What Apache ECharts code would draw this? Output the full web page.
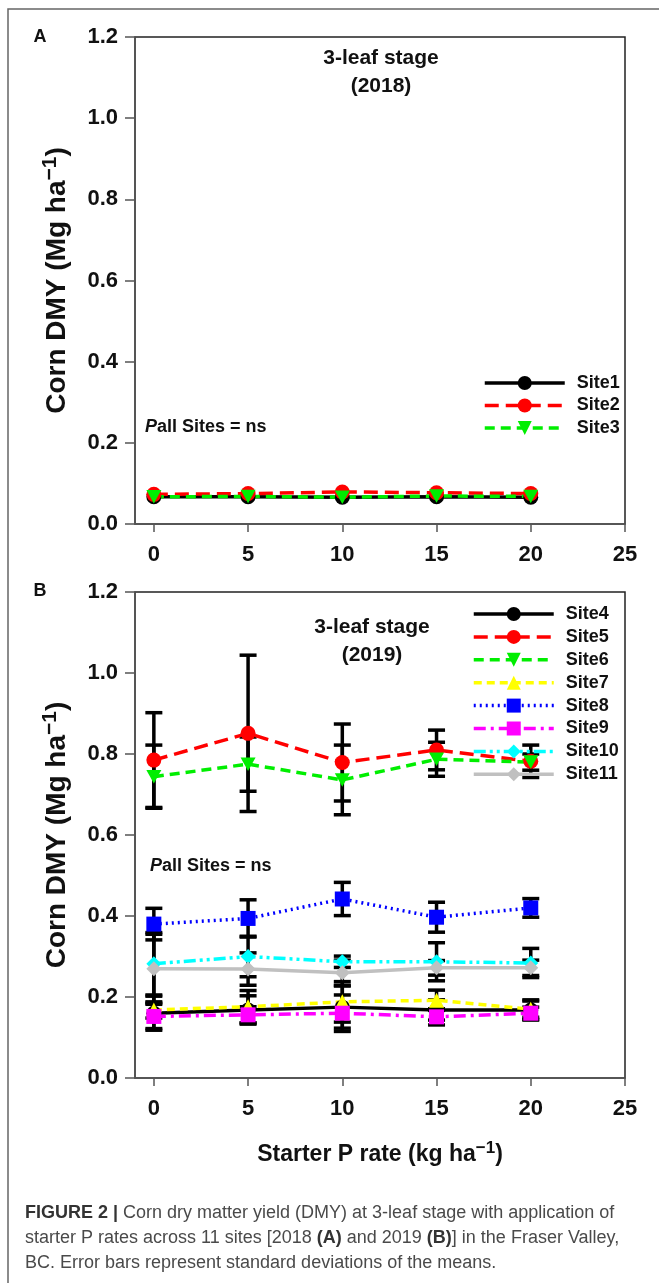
<!DOCTYPE html>
<html>
<head>
<meta charset="utf-8">
<title>Corn DMY at 3-leaf stage</title>
<script src="https://cdn.jsdelivr.net/npm/echarts@6/dist/echarts.min.js"></script>
<style>
  html, body { margin: 0; padding: 0; background: #fff; }
  #chart { width: 659px; height: 1283px; }
</style>
</head>
<body>
<div id="chart"></div>
<script>
'use strict';

// starter P rates (kg ha-1) and axis ticks
const rates = [0, 5, 10, 15, 20];
const xTicks = [0, 5, 10, 15, 20, 25];
const yTicks = [0, 0.2, 0.4, 0.6, 0.8, 1.0, 1.2];

// (A) 2018 - means
const site1 = [0.067, 0.067, 0.066, 0.067, 0.066];
const site2 = [0.073, 0.075, 0.079, 0.077, 0.075];
const site3 = [0.067, 0.068, 0.066, 0.069, 0.068];

// (B) 2019 - means and standard deviations
const site4 = [0.160, 0.168, 0.175, 0.168, 0.168];
const sd4 = [0.042, 0.035, 0.052, 0.025, 0.025];
const site5 = [0.785, 0.851, 0.779, 0.810, 0.782];
const sd5 = [0.117, 0.193, 0.095, 0.049, 0.040];
const site6 = [0.744, 0.775, 0.736, 0.787, 0.780];
const sd6 = [0.078, 0.067, 0.086, 0.042, 0.020];
const site7 = [0.168, 0.176, 0.188, 0.192, 0.170];
const sd7 = [0.020, 0.040, 0.050, 0.025, 0.020];
const site8 = [0.380, 0.394, 0.442, 0.397, 0.420];
const sd8 = [0.039, 0.046, 0.041, 0.037, 0.023];
const site9 = [0.152, 0.156, 0.160, 0.151, 0.160];
const sd9 = [0.030, 0.020, 0.045, 0.020, 0.015];
const site10 = [0.282, 0.300, 0.287, 0.287, 0.284];
const sd10 = [0.077, 0.050, 0.014, 0.047, 0.036];
const site11 = [0.270, 0.269, 0.260, 0.272, 0.272];
const sd11 = [0.085, 0.040, 0.031, 0.018, 0.019];

const FONT = '"Liberation Sans", Arial, Helvetica, sans-serif';
const TRI_DOWN = 'path://M0,0 L10,0 L5,9 Z';

// look of each site (SigmaPlot-ish defaults)
const looks = {
    Site1: { color: '#000000', dash: 'solid', symbol: 'circle' },
    Site2: { color: '#ff0000', dash: [14, 7], symbol: 'circle' },
    Site3: { color: '#00ee00', dash: [10, 6], symbol: TRI_DOWN },
    Site4: { color: '#000000', dash: 'solid', symbol: 'circle' },
    Site5: { color: '#ff0000', dash: [14, 7], symbol: 'circle' },
    Site6: { color: '#00ee00', dash: [10, 6], symbol: TRI_DOWN },
    Site7: { color: '#ffff00', dash: [8, 5], symbol: 'triangle' },
    Site8: { color: '#0000ff', dash: [2, 4], symbol: 'rect' },
    Site9: { color: '#ff00ff', dash: [12, 5, 3, 5], symbol: 'rect' },
    Site10: { color: '#00ffff', dash: [12, 4, 3, 4, 3, 4], symbol: 'diamond' },
    Site11: { color: '#c0c0c0', dash: 'solid', symbol: 'diamond' }
};

const lineSeries = (name, values, idx) => {
    const lk = looks[name];
    return {
        name,
        type: 'line',
        xAxisIndex: idx,
        yAxisIndex: idx,
        data: rates.map((r, i) => [r, values[i]]),
        symbol: lk.symbol,
        symbolSize: 15,
        symbolKeepAspect: true,
        itemStyle: { color: lk.color },
        lineStyle: { color: lk.color, width: 3.5, type: lk.dash },
        emphasis: { disabled: true },
        animation: false,
        z: 3
    };
};

const errorSeries = (values, sds, idx) => ({
    type: 'custom',
    xAxisIndex: idx,
    yAxisIndex: idx,
    data: rates.map((r, i) => [r, values[i], sds[i]]),
    encode: { x: 0, y: 1 },
    silent: true,
    animation: false,
    z: 2,
    renderItem: (params, api) => {
        const x = api.value(0);
        const m = api.value(1);
        const s = api.value(2);
        const hi = api.coord([x, m + s]);
        const lo = api.coord([x, m - s]);
        const hw = 8.5;
        const style = { stroke: '#000', lineWidth: 3.5 };
        return {
            type: 'group',
            children: [
                { type: 'line', shape: { x1: hi[0], y1: hi[1], x2: lo[0], y2: lo[1] }, style },
                { type: 'line', shape: { x1: hi[0] - hw, y1: hi[1], x2: hi[0] + hw, y2: hi[1] }, style },
                { type: 'line', shape: { x1: lo[0] - hw, y1: lo[1], x2: lo[0] + hw, y2: lo[1] }, style }
            ]
        };
    }
});

const axisGrey = '#555';
const boldText = (size) => ({ fontFamily: FONT, fontWeight: 'bold', fontSize: size, color: '#111' });

const makeX = (idx, withName) => ({
    type: 'value',
    gridIndex: idx,
    min: -1,
    max: 25,
    axisLine: { show: true, onZero: false, lineStyle: { color: axisGrey, width: 1.5 } },
    axisTick: { show: true, customValues: xTicks, length: 8, lineStyle: { color: axisGrey, width: 1.5 } },
    axisLabel: Object.assign({ customValues: xTicks, margin: 20 }, boldText(22)),
    splitLine: { show: false },
    name: withName ? 'Starter P rate (kg ha{sup|\u22121})' : '',
    nameLocation: 'middle',
    nameGap: 62,
    nameTextStyle: Object.assign(boldText(23), {
        rich: { sup: Object.assign(boldText(17), { padding: [0, 0, 12, 0] }) }
    })
});

const makeY = (idx) => ({
    type: 'value',
    gridIndex: idx,
    min: 0,
    max: 1.2,
    axisLine: { show: true, onZero: false, lineStyle: { color: axisGrey, width: 1.5 } },
    axisTick: { show: true, customValues: yTicks, length: 10, lineStyle: { color: axisGrey, width: 1.5 } },
    axisLabel: Object.assign({ customValues: yTicks, margin: 17, formatter: v => v.toFixed(1) }, boldText(22)),
    splitLine: { show: false },
    name: 'Corn DMY (Mg ha{sup|\u22121})',
    nameLocation: 'middle',
    nameGap: 60,
    nameTextStyle: Object.assign(boldText(28), {
        rich: { sup: Object.assign(boldText(21), { padding: [0, 0, 14, 0] }) }
    })
});

const legendOf = (names, left, top, gap) => ({
    data: names,
    orient: 'vertical',
    left,
    top,
    itemWidth: 80,
    itemHeight: 17.5,
    itemGap: gap,
    selectedMode: false,
    lineStyle: { width: 3.5 },
    textStyle: Object.assign(boldText(18), { padding: [0, 0, 0, 7] })
});

const annot = (x, y, text, size, align) => ({
    type: 'text',
    x,
    y,
    silent: true,
    style: {
        text,
        fontFamily: FONT,
        fontWeight: 'bold',
        fontSize: size,
        fill: '#111',
        lineHeight: 28,
        align: align || 'center',
        verticalAlign: 'middle',
        rich: {
            i: { fontFamily: FONT, fontWeight: 'bold', fontStyle: 'italic', fontSize: size, fill: '#111' }
        }
    }
});

const chart = echarts.init(document.getElementById('chart'), null, { renderer: 'canvas' });

chart.setOption({
    backgroundColor: '#fff',
    animation: false,
    grid: [
        { left: 135, top: 37, width: 490, height: 487, show: true, borderColor: '#222', borderWidth: 1.5 },
        { left: 135, top: 592, width: 490, height: 486, show: true, borderColor: '#222', borderWidth: 1.5 }
    ],
    xAxis: [makeX(0, false), makeX(1, true)],
    yAxis: [makeY(0), makeY(1)],
    legend: [
        legendOf(['Site1', 'Site2', 'Site3'], 478, 369, 4.5),
        legendOf(['Site4', 'Site5', 'Site6', 'Site7', 'Site8', 'Site9', 'Site10', 'Site11'], 467, 600, 4.9)
    ],
    series: [
        lineSeries('Site1', site1, 0),
        lineSeries('Site2', site2, 0),
        lineSeries('Site3', site3, 0),
        errorSeries(site4, sd4, 1),
        errorSeries(site5, sd5, 1),
        errorSeries(site6, sd6, 1),
        errorSeries(site7, sd7, 1),
        errorSeries(site8, sd8, 1),
        errorSeries(site9, sd9, 1),
        errorSeries(site10, sd10, 1),
        errorSeries(site11, sd11, 1),
        lineSeries('Site4', site4, 1),
        lineSeries('Site5', site5, 1),
        lineSeries('Site6', site6, 1),
        lineSeries('Site7', site7, 1),
        lineSeries('Site8', site8, 1),
        lineSeries('Site9', site9, 1),
        lineSeries('Site10', site10, 1),
        lineSeries('Site11', site11, 1)
    ],
    graphic: [
        // outer figure frame
        {
            type: 'rect',
            silent: true,
            shape: { x: 8, y: 9, width: 700, height: 1320 },
            style: { fill: 'none', stroke: '#666', lineWidth: 1.5 }
        },
        annot(40, 37, 'A', 18),
        annot(40, 591, 'B', 18),
        annot(381, 72, '3-leaf stage\n(2018)', 21),
        annot(372, 641, '3-leaf stage\n(2019)', 21),
        annot(145, 427, '{i|P}all Sites = ns', 18, 'left'),
        annot(150, 866, '{i|P}all Sites = ns', 18, 'left'),
        // caption
        {
            type: 'text',
            x: 25,
            y: 1201,
            silent: true,
            style: {
                text: '{b|FIGURE 2 |} Corn dry matter yield (DMY) at 3-leaf stage with application of\n' +
                    'starter P rates across 11 sites [2018 {b|(A)} and 2019 {b|(B)}] in the Fraser Valley,\n' +
                    'BC. Error bars represent standard deviations of the means.',
                fontFamily: FONT,
                fontSize: 18,
                fill: '#4a4a4a',
                lineHeight: 25,
                verticalAlign: 'top',
                rich: {
                    b: { fontFamily: FONT, fontSize: 18, fontWeight: 'bold', fill: '#333', lineHeight: 25 }
                }
            }
        }
    ]
});
</script>
</body>
</html>
